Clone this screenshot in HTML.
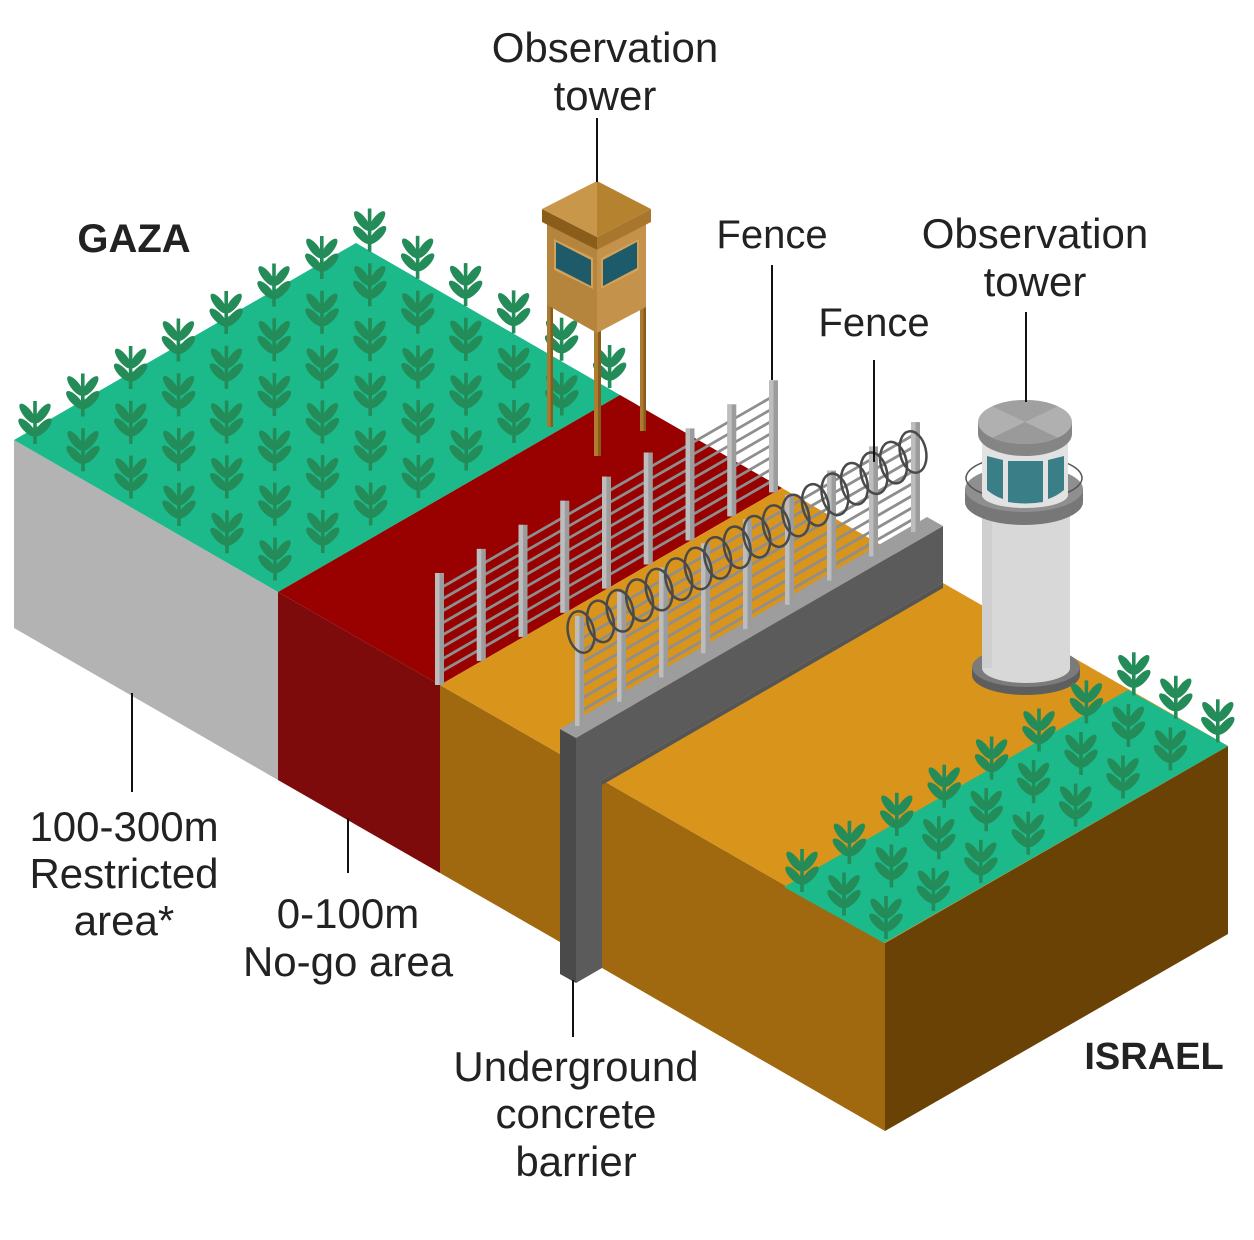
<!DOCTYPE html>
<html><head><meta charset="utf-8"><style>
html,body{margin:0;padding:0;background:#fff;}
svg{display:block;}
text{font-family:"Liberation Sans",sans-serif;fill:#222;}
</style></head><body>
<svg width="1254" height="1240" viewBox="0 0 1254 1240" xmlns="http://www.w3.org/2000/svg">
<defs>
<g id="p" fill="#238c58">
<rect x="-1.8" y="-21" width="3.6" height="43"/>
<ellipse cx="-7.5" cy="-8.5" rx="12" ry="4.4" transform="rotate(52 -7.5 -8.5)"/>
<ellipse cx="7.5" cy="-8.5" rx="12" ry="4.4" transform="rotate(-52 7.5 -8.5)"/>
<ellipse cx="-8" cy="5.5" rx="11.7" ry="4.4" transform="rotate(46 -8 5.5)"/>
<ellipse cx="8" cy="5.5" rx="11.7" ry="4.4" transform="rotate(-46 8 5.5)"/>
</g>
<clipPath id="capclip"><ellipse cx="1025" cy="422" rx="47" ry="22"/></clipPath>
</defs>

<!-- Gaza block faces -->
<polygon points="14,440 278,592 278,780 14,628" fill="#b3b3b3"/>
<polygon points="278,592 440,685 440,873 278,780" fill="#7e0b0b"/>
<polygon points="440,685 560,754 560,942 440,873" fill="#a0690f"/>

<!-- tops -->
<polygon points="14,440 278,592 620,395 356,243" fill="#1cb98b"/>
<polygon points="278,592 440,685 782,488 620,395" fill="#990000"/>
<polygon points="440,685 560,754 902,557 782,488" fill="#d9941b"/>

<!-- Gaza plants -->
<g>
<use href="#p" x="35" y="422"/><use href="#p" x="83" y="449.3"/><use href="#p" x="131" y="476.6"/><use href="#p" x="179" y="503.9"/><use href="#p" x="227" y="531.2"/><use href="#p" x="275" y="558.5"/>
<use href="#p" x="82.8" y="394.5"/><use href="#p" x="130.8" y="421.8"/><use href="#p" x="178.8" y="449.1"/><use href="#p" x="226.8" y="476.4"/><use href="#p" x="274.8" y="503.7"/><use href="#p" x="322.8" y="531"/>
<use href="#p" x="130.6" y="367"/><use href="#p" x="178.6" y="394.3"/><use href="#p" x="226.6" y="421.6"/><use href="#p" x="274.6" y="448.9"/><use href="#p" x="322.6" y="476.2"/><use href="#p" x="370.6" y="503.5"/>
<use href="#p" x="178.4" y="339.5"/><use href="#p" x="226.4" y="366.8"/><use href="#p" x="274.4" y="394.1"/><use href="#p" x="322.4" y="421.4"/><use href="#p" x="370.4" y="448.7"/><use href="#p" x="418.4" y="476"/>
<use href="#p" x="226.2" y="312"/><use href="#p" x="274.2" y="339.3"/><use href="#p" x="322.2" y="366.6"/><use href="#p" x="370.2" y="393.9"/><use href="#p" x="418.2" y="421.2"/><use href="#p" x="466.2" y="448.5"/>
<use href="#p" x="274" y="284.5"/><use href="#p" x="322" y="311.8"/><use href="#p" x="370" y="339.1"/><use href="#p" x="418" y="366.4"/><use href="#p" x="466" y="393.7"/><use href="#p" x="514" y="421"/>
<use href="#p" x="321.8" y="257"/><use href="#p" x="369.8" y="284.3"/><use href="#p" x="417.8" y="311.6"/><use href="#p" x="465.8" y="338.9"/><use href="#p" x="513.8" y="366.2"/><use href="#p" x="561.8" y="393.5"/>
<use href="#p" x="369.6" y="229.5"/><use href="#p" x="417.6" y="256.8"/><use href="#p" x="465.6" y="284.1"/><use href="#p" x="513.6" y="311.4"/><use href="#p" x="561.6" y="338.7"/><use href="#p" x="609.6" y="366"/>
</g>

<!-- Fence 1 wires -->
<g stroke="#8e8e8e" stroke-width="2.8">
<line x1="439" y1="673" x2="773" y2="480.3"/>
<line x1="439" y1="661" x2="773" y2="468.3"/>
<line x1="439" y1="649" x2="773" y2="456.3"/>
<line x1="439" y1="637" x2="773" y2="444.3"/>
<line x1="439" y1="625" x2="773" y2="432.3"/>
<line x1="439" y1="613" x2="773" y2="420.3"/>
<line x1="439" y1="601" x2="773" y2="408.3"/>
<line x1="439" y1="589" x2="773" y2="396.3"/>
</g>
<!-- Fence 1 posts -->
<g>
<rect x="435" y="573" width="9" height="112" fill="#9c9c9c"/><rect x="435" y="573" width="4.5" height="112" fill="#bdbdbd"/>
<rect x="476.8" y="548.9" width="9" height="112" fill="#9c9c9c"/><rect x="476.8" y="548.9" width="4.5" height="112" fill="#bdbdbd"/>
<rect x="518.5" y="524.8" width="9" height="112" fill="#9c9c9c"/><rect x="518.5" y="524.8" width="4.5" height="112" fill="#bdbdbd"/>
<rect x="560.3" y="500.7" width="9" height="112" fill="#9c9c9c"/><rect x="560.3" y="500.7" width="4.5" height="112" fill="#bdbdbd"/>
<rect x="602" y="476.6" width="9" height="112" fill="#9c9c9c"/><rect x="602" y="476.6" width="4.5" height="112" fill="#bdbdbd"/>
<rect x="643.8" y="452.5" width="9" height="112" fill="#9c9c9c"/><rect x="643.8" y="452.5" width="4.5" height="112" fill="#bdbdbd"/>
<rect x="685.5" y="428.4" width="9" height="112" fill="#9c9c9c"/><rect x="685.5" y="428.4" width="4.5" height="112" fill="#bdbdbd"/>
<rect x="727.3" y="404.3" width="9" height="112" fill="#9c9c9c"/><rect x="727.3" y="404.3" width="4.5" height="112" fill="#bdbdbd"/>
<rect x="769" y="380.3" width="9" height="112" fill="#9c9c9c"/><rect x="769" y="380.3" width="4.5" height="112" fill="#bdbdbd"/>
</g>

<!-- Wooden observation tower -->
<g>
<rect x="547" y="300" width="6" height="127" fill="#a97a30"/><rect x="550.5" y="300" width="2.5" height="127" fill="#8a5c1c"/>
<rect x="640" y="300" width="6" height="131" fill="#a97a30"/><rect x="643.5" y="300" width="2.5" height="131" fill="#8a5c1c"/>
<rect x="594" y="320" width="7" height="136" fill="#ad7d32"/><rect x="598" y="320" width="3" height="136" fill="#8a5c1c"/>
<polygon points="547,224 597,250 597,333 547,305" fill="#b5853d"/>
<polygon points="597,250 646,224 646,307 597,333" fill="#c4924a"/>
<polygon points="554,239 593,258 593,289 554,270" fill="#d3a25a"/>
<polygon points="556,242 591,260 591,286 556,268" fill="#1d5a6a"/>
<polygon points="601,258 639,239 639,270 601,289" fill="#d3a25a"/>
<polygon points="603,260 637,242 637,268 603,286" fill="#1d5a6a"/>
<polygon points="542,209 597,237 597,250 542,222" fill="#8b5d1a"/>
<polygon points="597,237 651,209 651,222 597,250" fill="#a8762c"/>
<polygon points="542,209 597,181 597,237" fill="#c9974a"/>
<polygon points="597,181 651,209 597,237" fill="#b5822f"/>
</g>

<!-- Israel block -->
<polygon points="602,780 885,943 885,1131 602,968" fill="#a0690f"/>
<polygon points="885,943 1228,746 1228,934 885,1131" fill="#6b4205"/>
<polygon points="602,780 885,943 1228,746 943,583" fill="#d9941b"/>
<polygon points="784,887 884,943 1228,746 1128,690" fill="#1cb98b"/>

<!-- Concrete wall -->
<polygon points="576,738 943,526 943,583 602,780 602,968 576,983" fill="#5b5b5b"/>
<polygon points="602,780 943,583 943,588 602,785" fill="#555"/>
<polygon points="560,729 576,738 576,983 560,974" fill="#4a4a4a"/>
<polygon points="560,729 576,738 943,526 927,517" fill="#9d9d9d"/>

<!-- Fence 2 wires -->
<g stroke="#8e8e8e" stroke-width="2.8">
<line x1="579" y1="712" x2="915" y2="518.1"/>
<line x1="579" y1="700" x2="915" y2="506.1"/>
<line x1="579" y1="688" x2="915" y2="494.1"/>
<line x1="579" y1="676" x2="915" y2="482.1"/>
<line x1="579" y1="664" x2="915" y2="470.1"/>
<line x1="579" y1="652" x2="915" y2="458.1"/>
<line x1="579" y1="640" x2="915" y2="446.1"/>
<line x1="579" y1="628" x2="915" y2="434.1"/>
</g>
<!-- Fence 2 posts -->
<g>
<rect x="575" y="616" width="9" height="110" fill="#9c9c9c"/><rect x="575" y="616" width="4.5" height="110" fill="#bdbdbd"/>
<rect x="617" y="591.8" width="9" height="110" fill="#9c9c9c"/><rect x="617" y="591.8" width="4.5" height="110" fill="#bdbdbd"/>
<rect x="659" y="567.5" width="9" height="110" fill="#9c9c9c"/><rect x="659" y="567.5" width="4.5" height="110" fill="#bdbdbd"/>
<rect x="701" y="543.3" width="9" height="110" fill="#9c9c9c"/><rect x="701" y="543.3" width="4.5" height="110" fill="#bdbdbd"/>
<rect x="743" y="519.1" width="9" height="110" fill="#9c9c9c"/><rect x="743" y="519.1" width="4.5" height="110" fill="#bdbdbd"/>
<rect x="785" y="494.8" width="9" height="110" fill="#9c9c9c"/><rect x="785" y="494.8" width="4.5" height="110" fill="#bdbdbd"/>
<rect x="827" y="470.6" width="9" height="110" fill="#9c9c9c"/><rect x="827" y="470.6" width="4.5" height="110" fill="#bdbdbd"/>
<rect x="869" y="446.4" width="9" height="110" fill="#9c9c9c"/><rect x="869" y="446.4" width="4.5" height="110" fill="#bdbdbd"/>
<rect x="911" y="422.1" width="9" height="110" fill="#9c9c9c"/><rect x="911" y="422.1" width="4.5" height="110" fill="#bdbdbd"/>
</g>
<!-- razor wire coils -->
<g fill="none" stroke="#4a4a4a" stroke-width="2.5">
<ellipse cx="581" cy="632" rx="13" ry="21" transform="rotate(-12 581 632)"/>
<ellipse cx="600.5" cy="621.4" rx="13" ry="21" transform="rotate(-12 600.5 621.4)"/>
<ellipse cx="620.1" cy="610.8" rx="13" ry="21" transform="rotate(-12 620.1 610.8)"/>
<ellipse cx="639.6" cy="600.2" rx="13" ry="21" transform="rotate(-12 639.6 600.2)"/>
<ellipse cx="659.1" cy="589.6" rx="13" ry="21" transform="rotate(-12 659.1 589.6)"/>
<ellipse cx="678.7" cy="579.1" rx="13" ry="21" transform="rotate(-12 678.7 579.1)"/>
<ellipse cx="698.2" cy="568.5" rx="13" ry="21" transform="rotate(-12 698.2 568.5)"/>
<ellipse cx="717.7" cy="557.9" rx="13" ry="21" transform="rotate(-12 717.7 557.9)"/>
<ellipse cx="737.2" cy="547.3" rx="13" ry="21" transform="rotate(-12 737.2 547.3)"/>
<ellipse cx="756.8" cy="536.7" rx="13" ry="21" transform="rotate(-12 756.8 536.7)"/>
<ellipse cx="776.3" cy="526.1" rx="13" ry="21" transform="rotate(-12 776.3 526.1)"/>
<ellipse cx="795.8" cy="515.5" rx="13" ry="21" transform="rotate(-12 795.8 515.5)"/>
<ellipse cx="815.4" cy="504.9" rx="13" ry="21" transform="rotate(-12 815.4 504.9)"/>
<ellipse cx="834.9" cy="494.3" rx="13" ry="21" transform="rotate(-12 834.9 494.3)"/>
<ellipse cx="854.4" cy="483.7" rx="13" ry="21" transform="rotate(-12 854.4 483.7)"/>
<ellipse cx="874" cy="473.2" rx="13" ry="21" transform="rotate(-12 874 473.2)"/>
<ellipse cx="893.5" cy="462.6" rx="13" ry="21" transform="rotate(-12 893.5 462.6)"/>
<ellipse cx="913" cy="452" rx="13" ry="21" transform="rotate(-12 913 452)"/>
</g>

<!-- Israel observation tower -->
<g>
<ellipse cx="1026" cy="675" rx="54" ry="20" fill="#5e5e5e"/>
<rect x="972" y="667" width="108" height="8" fill="#5e5e5e"/>
<ellipse cx="1026" cy="667" rx="54" ry="20" fill="#7b7b7b"/>
<rect x="982" y="500" width="88" height="168" fill="#d8d8d8"/>
<ellipse cx="1026" cy="668" rx="44" ry="15" fill="#d8d8d8"/>
<rect x="982" y="500" width="10" height="168" fill="#cfcfcf"/>
<ellipse cx="1024" cy="502" rx="59" ry="23" fill="#777"/>
<rect x="965" y="489" width="118" height="13" fill="#777"/>
<ellipse cx="1024" cy="489" rx="59" ry="23" fill="#8f8f8f"/>
<ellipse cx="1024" cy="478" rx="58" ry="22" fill="none" stroke="#555" stroke-width="1.5"/>
<rect x="982" y="433" width="86" height="62" fill="#e2e2e2"/>
<ellipse cx="1025" cy="495" rx="43" ry="13" fill="#e2e2e2"/>
<path d="M987,456 L1003,460 L1003,499 Q994,496 987,490 Z" fill="#3a7f88"/>
<path d="M1008,461 L1043,461 L1043,502 Q1026,505 1008,502 Z" fill="#3a7f88"/>
<path d="M1048,460 L1064,456 L1064,490 Q1057,496 1048,499 Z" fill="#3a7f88"/>
<ellipse cx="1025" cy="434" rx="47" ry="22" fill="#858585"/>
<rect x="978" y="422" width="94" height="12" fill="#858585"/>
<ellipse cx="1025" cy="422" rx="47" ry="22" fill="#b0b0b0"/>
<g clip-path="url(#capclip)">
<polygon points="1025,422 975,398 1075,398" fill="#a0a0a0"/>
<polygon points="1025,422 975,446 1075,446" fill="#9a9a9a"/>
</g>
</g>

<!-- Israel plants -->
<g>
<use href="#p" x="802" y="870"/><use href="#p" x="844" y="893.5"/><use href="#p" x="886" y="917"/>
<use href="#p" x="849.4" y="841.9"/><use href="#p" x="891.4" y="865.4"/><use href="#p" x="933.4" y="888.9"/>
<use href="#p" x="896.8" y="813.8"/><use href="#p" x="938.8" y="837.3"/><use href="#p" x="980.8" y="860.8"/>
<use href="#p" x="944.2" y="785.7"/><use href="#p" x="986.2" y="809.2"/><use href="#p" x="1028.2" y="832.7"/>
<use href="#p" x="991.6" y="757.6"/><use href="#p" x="1033.6" y="781.1"/><use href="#p" x="1075.6" y="804.6"/>
<use href="#p" x="1039" y="729.5"/><use href="#p" x="1081" y="753"/><use href="#p" x="1123" y="776.5"/>
<use href="#p" x="1086.4" y="701.4"/><use href="#p" x="1128.4" y="724.9"/><use href="#p" x="1170.4" y="748.4"/>
<use href="#p" x="1133.8" y="673.3"/><use href="#p" x="1175.8" y="696.8"/><use href="#p" x="1217.8" y="720.3"/>
</g>

<!-- Leader lines -->
<g stroke="#111" stroke-width="2">
<line x1="597" y1="118" x2="597" y2="182"/>
<line x1="772" y1="265" x2="772" y2="380"/>
<line x1="1026" y1="312" x2="1026" y2="402"/>
<line x1="874" y1="360" x2="874" y2="462"/>
<line x1="132" y1="693" x2="132" y2="792"/>
<line x1="348" y1="818" x2="348" y2="873"/>
<line x1="573" y1="980" x2="573" y2="1037"/>
</g>

<!-- Labels -->
<g font-size="42" text-anchor="middle">
<text x="605" y="62">Observation</text>
<text x="605" y="110">tower</text>
<text x="1035" y="248">Observation</text>
<text x="1035" y="296">tower</text>
<text x="124" y="841">100-300m</text>
<text x="124" y="888">Restricted</text>
<text x="124" y="935">area*</text>
<text x="348" y="928">0-100m</text>
<text x="348" y="976">No-go area</text>
<text x="576" y="1081">Underground</text>
<text x="576" y="1128">concrete</text>
<text x="576" y="1176">barrier</text>
</g>
<g font-size="40" text-anchor="middle">
<text x="772" y="248">Fence</text>
<text x="874" y="336">Fence</text>
</g>
<text x="134" y="252" font-size="40" font-weight="bold" text-anchor="middle">GAZA</text>
<text x="1154" y="1069" font-size="38" font-weight="bold" text-anchor="middle">ISRAEL</text>
</svg>
</body></html>
